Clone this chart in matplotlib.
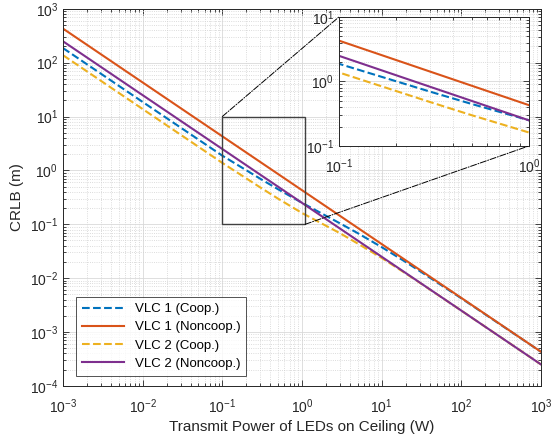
import matplotlib
matplotlib.use('Agg')
import matplotlib.pyplot as plt
import numpy as np
from matplotlib.patches import Rectangle, ConnectionPatch
from matplotlib.ticker import LogLocator, NullFormatter

plt.rcParams['font.family'] = ['Liberation Sans', 'DejaVu Sans']

# values (CRLB in m vs transmit power in W)
power = [1e-3, 1e-2, 1e-1, 0.3, 0.5, 1, 2, 3, 5, 10, 20, 30, 100, 1e3]
vlc1_coop = [187, 18.7, 1.88, 0.70, 0.448, 0.251, 0.144, 0.104, 0.0686,
             0.0377, 0.0200, 0.0136, 0.00423, 4.29e-4]
vlc1_noncoop = [430, 43, 4.3, 1.433, 0.86, 0.43, 0.215, 0.1433, 0.086,
                0.043, 0.0215, 0.01433, 0.0043, 4.3e-4]
vlc2_coop = [138, 13.8, 1.38, 0.483, 0.30, 0.162, 0.094, 0.0683, 0.044,
             0.02375, 0.01225, 0.00825, 0.0025, 2.5e-4]
vlc2_noncoop = [250, 25, 2.5, 0.833, 0.5, 0.25, 0.125, 0.0833, 0.05,
                0.025, 0.0125, 0.00833, 0.0025, 2.5e-4]

labels = ['VLC 1 (Coop.)', 'VLC 1 (Noncoop.)', 'VLC 2 (Coop.)', 'VLC 2 (Noncoop.)']
series = [vlc1_coop, vlc1_noncoop, vlc2_coop, vlc2_noncoop]
colors = ['#0072BD', '#D95319', '#EDB120', '#7E2F8E']
styles = ['--', '-', '--', '-']

# zoom window
zx = [0.1, 1.1]
zy = [0.1, 10]


def style_axes(ax, fs):
    ax.set_xscale('log')
    ax.set_yscale('log')
    ax.grid(True, which='major', color='#d9d9d9', linewidth=0.6)
    ax.grid(True, which='minor', color='#d0d0d0', linestyle=':', linewidth=0.6)
    ax.tick_params(which='both', direction='in', top=True, right=True,
                   labelsize=fs, colors='#262626', width=0.6)
    ax.tick_params(which='major', length=4)
    ax.tick_params(which='minor', length=2)
    ax.tick_params(axis='x', which='major', pad=8)
    for s in ax.spines.values():
        s.set_color('#262626')
        s.set_linewidth(0.7)
    ax.set_axisbelow(True)


fig = plt.figure(figsize=(5.52, 4.41), dpi=100)
ax = fig.add_axes([0.114, 0.125, 0.866, 0.855])
for y, c, ls, lab in zip(series, colors, styles, labels):
    ax.plot(power, y, ls, color=c, linewidth=1.5, label=lab)
style_axes(ax, 10)
ax.set_xlim(1e-3, 1e3)
ax.set_ylim(1e-4, 1e3)
ax.xaxis.set_major_locator(LogLocator(base=10, numticks=10))
ax.yaxis.set_major_locator(LogLocator(base=10, numticks=10))
ax.xaxis.set_minor_locator(LogLocator(base=10, subs=np.arange(2, 10), numticks=20))
ax.yaxis.set_minor_locator(LogLocator(base=10, subs=np.arange(2, 10), numticks=20))
ax.xaxis.set_minor_formatter(NullFormatter())
ax.yaxis.set_minor_formatter(NullFormatter())
ax.set_xlabel('Transmit Power of LEDs on Ceiling (W)', fontsize=11, color='#262626',
              labelpad=3)
ax.set_ylabel('CRLB (m)', fontsize=11, color='#262626')

leg = ax.legend(loc='lower left', bbox_to_anchor=(0.027, 0.027), borderaxespad=0,
                fontsize=9.5, frameon=True, fancybox=False, edgecolor='#262626',
                handlelength=3.2, borderpad=0.45, labelspacing=0.45)
leg.get_frame().set_linewidth(0.7)

ax.add_patch(Rectangle((zx[0], zy[0]), zx[1] - zx[0], zy[1] - zy[0],
                       fill=False, edgecolor='#404040', linewidth=1.0, zorder=5))

# inset
axi = fig.add_axes([0.614, 0.669, 0.344, 0.2925])
for y, c, ls in zip(series, colors, styles):
    axi.plot(power, y, ls, color=c, linewidth=1.5)
style_axes(axi, 10)
axi.set_xlim(0.1, 1)
axi.set_ylim(0.1, 10)
axi.yaxis.set_minor_formatter(NullFormatter())
axi.xaxis.set_minor_formatter(NullFormatter())

con1 = ConnectionPatch(xyA=(zx[0], zy[1]), coordsA=ax.transData,
                       xyB=(0.1, 10), coordsB=axi.transData,
                       linestyle='-.', color='black', linewidth=0.7)
con2 = ConnectionPatch(xyA=(zx[1], zy[0]), coordsA=ax.transData,
                       xyB=(1, 0.1), coordsB=axi.transData,
                       linestyle='-.', color='black', linewidth=0.7)
fig.add_artist(con1)
fig.add_artist(con2)

fig.savefig('out.png', dpi=100)
